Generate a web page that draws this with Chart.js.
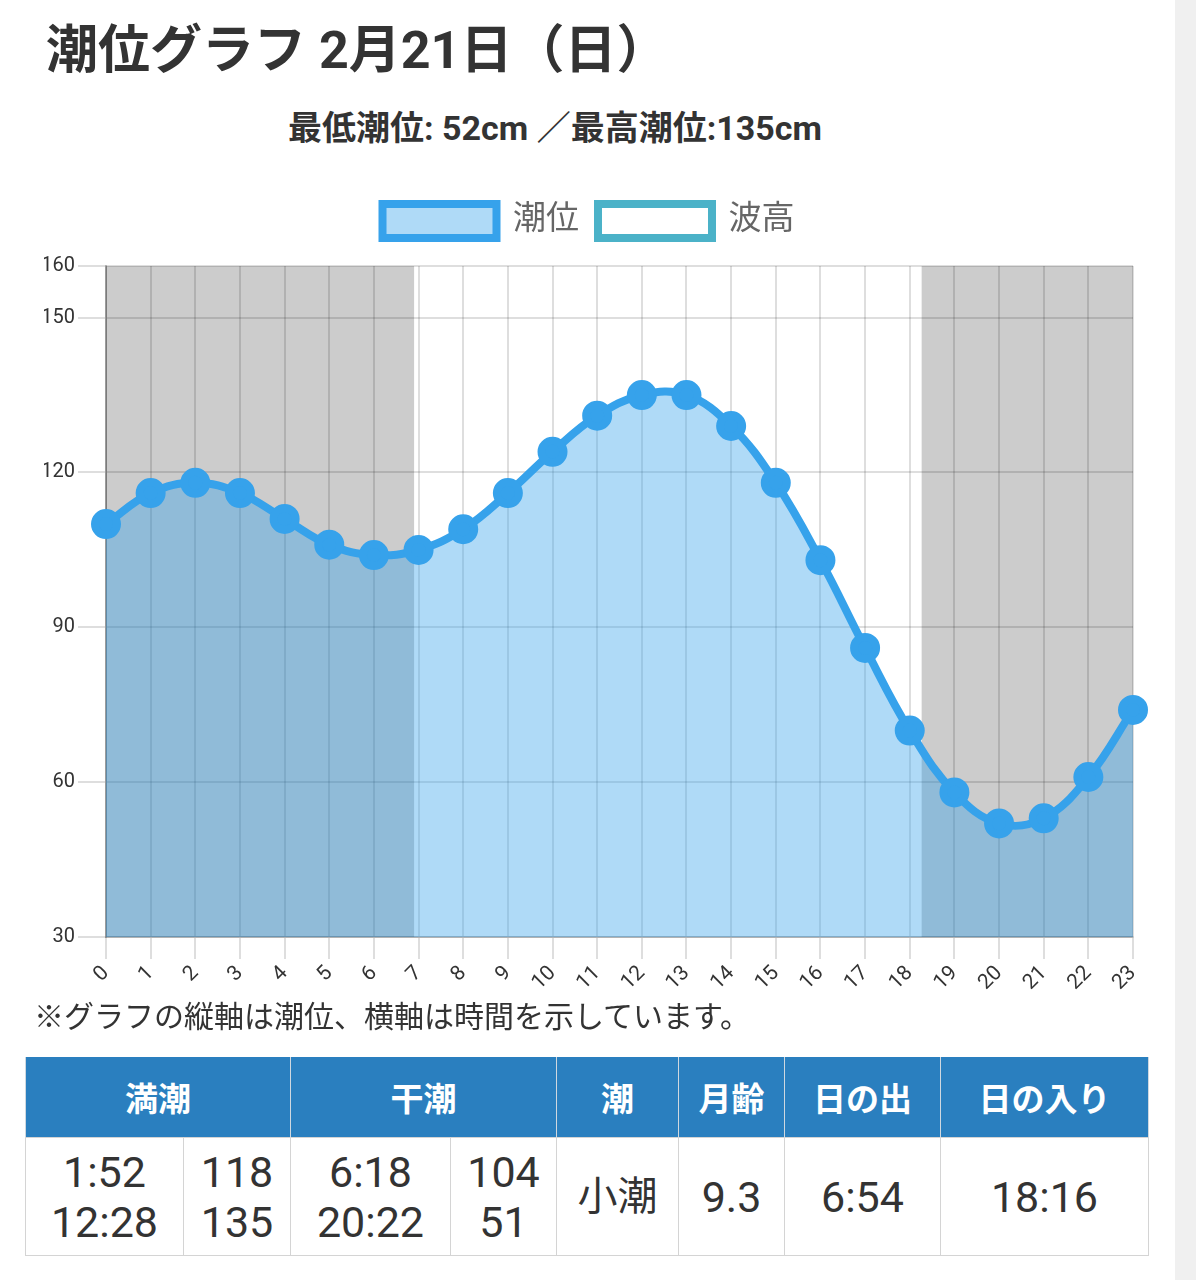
<!DOCTYPE html>
<html lang="ja">
<head>
<meta charset="utf-8">
<title>潮位グラフ</title>
<script src="https://cdn.jsdelivr.net/npm/chart.js@4"></script>
<style>
  html, body { margin: 0; padding: 0; background: #fff; }
  body { width: 1196px; height: 1280px; position: relative; overflow: hidden;
         font-family: Roboto, "Noto Sans CJK JP", "Noto Sans", sans-serif; color: #333; }
  #strip { position: absolute; left: 1175px; top: 0; width: 21px; height: 1280px; background: #f0f0f0; }
  #title { position: absolute; left: 46px; top: 20px; margin: 0; font-size: 52px; font-weight: bold; line-height: 62px; color: #333; }
  #sub { position: absolute; left: 0; width: 1110px; top: 106px; text-align: center; font-size: 34px; font-weight: bold; line-height: 44px; color: #333; }
  #wrap { position: absolute; left: 20px; top: 185px; width: 1140px; height: 815px; }
  #note { position: absolute; left: 34px; top: 997px; font-size: 30px; line-height: 40px; color: #333; }
  #tbl { position: absolute; left: 25px; top: 1057px; width: 1123px; border-collapse: collapse; table-layout: fixed; }
  #tbl th { background: #2a7fbf; color: #fff; font-size: 33px; font-weight: bold; height: 80px; padding: 0;
            border-left: 1px solid #cfd8e0; border-right: 1px solid #cfd8e0; }
  #tbl td { height: 117px; padding: 0; text-align: center; font-size: 43px; line-height: 50px; color: #333;
            border: 1px solid #d4d4d4; }
  #tbl td.kanji { font-size: 40px; }
</style>
</head>
<body>
<div id="strip"></div>
<h1 id="title">潮位グラフ 2月21日（日）</h1>
<div id="sub">最低潮位: 52cm ／最高潮位:135cm</div>
<div id="wrap"><canvas id="tideChart"></canvas></div>
<div id="note">※グラフの縦軸は潮位、横軸は時間を示しています。</div>
<table id="tbl"></table>

<script>
// hourly tide level (cm)
const hours = ['0','1','2','3','4','5','6','7','8','9','10','11','12','13','14','15','16','17','18','19','20','21','22','23'];
const tide = [110, 116, 118, 116, 111, 106, 104, 105, 109, 116, 124, 131, 135, 135, 129, 118, 103, 86, 70, 58, 52, 53, 61, 74];
const wave = [];
const yTicks = [30, 60, 90, 120, 150, 160];

// table values
const highTimes = ['1:52', '12:28'];
const highLevels = ['118', '135'];
const lowTimes = ['6:18', '20:22'];
const lowLevels = ['104', '51'];
const tideName = '小潮';
const moonAge = '9.3';
const sunrise = '6:54';
const sunset = '18:16';

const toHour = (t) => {
  let p = t.split(':');
  return Number(p[0]) + Number(p[1]) / 60;
};

// grey background for the night hours, under grid and fill
const nightShade = {
  id: 'nightShade',
  beforeDraw: (chart) => {
    let ctx = chart.ctx;
    let area = chart.chartArea;
    let x = chart.scales.x;
    let rise = x.getPixelForValue(toHour(sunrise));
    let set = x.getPixelForValue(toHour(sunset));
    ctx.save();
    ctx.fillStyle = '#cccccc';
    ctx.fillRect(area.left, area.top, rise - area.left, area.bottom - area.top);
    ctx.fillRect(set, area.top, area.right - set, area.bottom - area.top);
    ctx.restore();
  }
};

// a bit more room between legend and plot
const legendGap = {
  id: 'legendGap',
  beforeInit: (chart) => {
    const fit = chart.legend.fit;
    chart.legend.fit = function () {
      fit.bind(chart.legend)();
      this.height += 18;
    };
  }
};

const fontFamily = 'Roboto, "Noto Sans CJK JP", sans-serif';

let ctx = document.getElementById('tideChart').getContext('2d');
new Chart(ctx, {
  type: 'line',
  data: {
    labels: hours,
    datasets: [{
      label: '潮位',
      data: tide,
      borderColor: 'rgb(54, 162, 235)',
      backgroundColor: 'rgba(54, 162, 235, 0.4)',
      pointBackgroundColor: 'rgb(54, 162, 235)',
      pointBorderColor: 'rgb(54, 162, 235)',
      borderWidth: 8,
      pointRadius: 11,
      tension: 0.4,
      fill: 'start',
      clip: false
    }, {
      label: '波高',
      data: wave,
      borderColor: 'rgb(75, 178, 200)',
      backgroundColor: '#ffffff',
      borderWidth: 8,
      fill: false
    }]
  },
  options: {
    responsive: true,
    maintainAspectRatio: false,
    animation: false,
    layout: { padding: { left: 24, right: 27, top: 0, bottom: 0 } },
    plugins: {
      legend: {
        labels: {
          boxWidth: 114,
          boxHeight: 34,
          padding: 19,
          color: '#666',
          font: { family: fontFamily, size: 33 }
        }
      },
      tooltip: { enabled: false }
    },
    scales: {
      x: {
        grid: { color: 'rgba(0,0,0,0.13)', tickLength: 22, lineWidth: 2 },
        border: { color: 'rgba(0,0,0,0.2)', width: 2 },
        ticks: { color: '#333', font: { family: fontFamily, size: 21 }, maxRotation: 45, minRotation: 45, autoSkip: false, padding: 2 },
        afterFit: (scale) => { scale.height = 63; }
      },
      y: {
        min: yTicks[0],
        max: yTicks[yTicks.length - 1],
        afterBuildTicks: (scale) => { scale.ticks = yTicks.map(v => ({ value: v })); },
        grid: { color: 'rgba(0,0,0,0.13)', tickLength: 28, lineWidth: 2 },
        border: { color: 'rgba(0,0,0,0.3)', width: 2 },
        ticks: { color: '#333', font: { family: fontFamily, size: 20 }, padding: 3 },
        afterFit: (scale) => { scale.width = 62; }
      }
    }
  },
  plugins: [nightShade, legendGap]
});

// summary table under the chart
const cols = [158, 107, 160, 106, 122, 106, 156, 208];
let html = '<colgroup>' + cols.map(w => '<col style="width:' + w + 'px">').join('') + '</colgroup>';
html += '<tr><th colspan="2">満潮</th><th colspan="2">干潮</th><th>潮</th><th>月齢</th><th>日の出</th><th>日の入り</th></tr>';
html += '<tr>' +
  '<td>' + highTimes.join('<br>') + '</td>' +
  '<td>' + highLevels.join('<br>') + '</td>' +
  '<td>' + lowTimes.join('<br>') + '</td>' +
  '<td>' + lowLevels.join('<br>') + '</td>' +
  '<td class="kanji">' + tideName + '</td>' +
  '<td>' + moonAge + '</td>' +
  '<td>' + sunrise + '</td>' +
  '<td>' + sunset + '</td></tr>';
document.getElementById('tbl').innerHTML = html;
</script>
</body>
</html>
